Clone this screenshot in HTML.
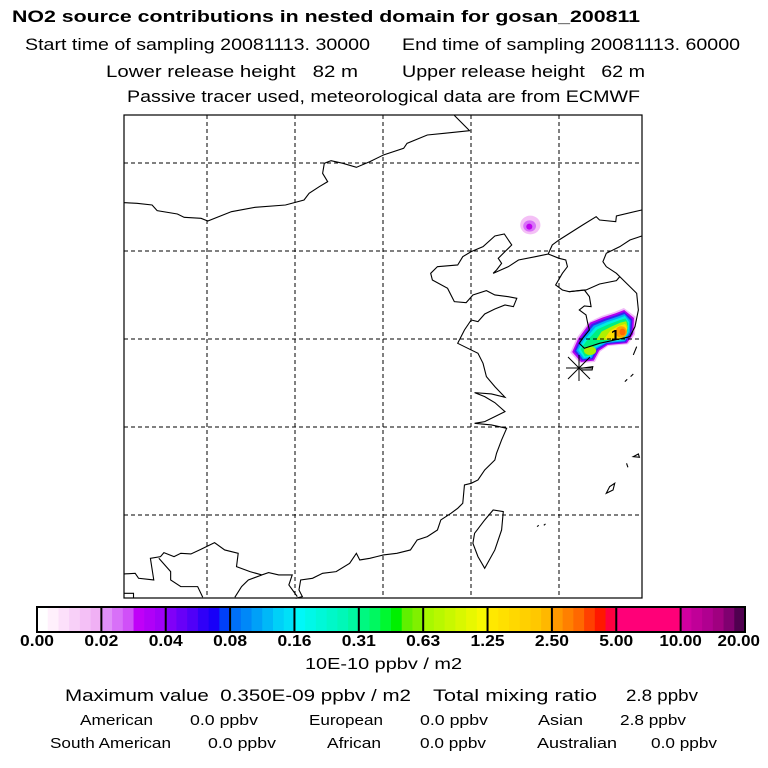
<!DOCTYPE html>
<html><head><meta charset="utf-8"><style>
html,body{margin:0;padding:0;background:#fff;}
svg{display:block;font-family:"Liberation Sans",sans-serif;}
</style></head><body>
<svg id="chart" width="768" height="768" viewBox="0 0 768 768" xmlns="http://www.w3.org/2000/svg">
<rect width="768" height="768" fill="#fff"/>
<g fill="#000">
<text x="12" y="22" font-size="17" font-weight="bold" textLength="628" lengthAdjust="spacingAndGlyphs">NO2 source contributions in nested domain for gosan_200811</text>
<text x="25" y="50" font-size="17" textLength="345" lengthAdjust="spacingAndGlyphs">Start time of sampling 20081113. 30000</text>
<text x="402" y="50" font-size="17" textLength="338" lengthAdjust="spacingAndGlyphs">End time of sampling 20081113. 60000</text>
<text x="106" y="77" font-size="17" textLength="252" lengthAdjust="spacingAndGlyphs" xml:space="preserve">Lower release height   82 m</text>
<text x="402" y="77" font-size="17" textLength="243" lengthAdjust="spacingAndGlyphs" xml:space="preserve">Upper release height   62 m</text>
<text x="127" y="102" font-size="17" textLength="513" lengthAdjust="spacingAndGlyphs">Passive tracer used, meteorological data are from ECMWF</text>
</g>

<g id="map">
<rect x="124" y="115" width="518" height="483" fill="#fff" stroke="#000" stroke-width="1.2"/>
<g id="plume" transform="translate(120,110) scale(0.3377,0.3333)">
<ellipse cx="1215" cy="345" rx="30" ry="28" fill="#f4c0f6"/>
<ellipse cx="1213" cy="348" rx="19" ry="17" fill="#d870f8"/>
<ellipse cx="1212" cy="350" rx="9" ry="9" fill="#c000f0"/>
<polygon points="1333,728 1352,684 1388,636 1426,618 1464,606 1492,594 1527,620 1525,674 1504,703 1446,708 1422,725 1406,756 1362,760" fill="#f0b8f8"/>
<polygon points="1339,726 1357,686 1392,638 1430,622 1467,610 1493,600 1522,624 1520,672 1501,700 1444,705 1419,722 1403,752 1365,756" fill="#b000f0"/>
<polygon points="1345,724 1362,688 1397,642 1434,627 1470,615 1493,606 1517,628 1515,670 1498,697 1442,702 1415,719 1400,748 1368,752" fill="#3820f0"/>
<polygon points="1351,722 1367,690 1402,647 1438,632 1473,620 1494,612 1512,632 1510,668 1495,694 1440,699 1411,716 1397,744 1371,748" fill="#00a8f8"/>
<polygon points="1357,720 1373,692 1408,652 1442,637 1476,625 1495,618 1508,636 1506,666 1492,691 1440,696 1408,713 1394,740 1374,744" fill="#00f0e0"/>
<polygon points="1364,718 1380,695 1414,658 1447,643 1479,631 1497,625 1505,640 1503,664 1489,688 1440,693 1404,710 1391,736 1377,740" fill="#00f080"/>
<polygon points="1410,690 1426,665 1455,650 1482,638 1499,634 1503,650 1500,664 1487,686 1440,690" fill="#b0f000"/>
<polygon points="1436,684 1452,662 1476,648 1496,642 1502,656 1498,672 1484,686 1450,690" fill="#ffe000"/>
<ellipse cx="1484" cy="666" rx="17" ry="17" fill="#ffa000"/>
<ellipse cx="1488" cy="666" rx="9" ry="10" fill="#ff6800"/>
<ellipse cx="1392" cy="722" rx="18" ry="13" fill="#a8f000"/>
</g>
<g id="grid" stroke="#000" stroke-width="1" stroke-dasharray="4,3"></g>
<g transform="translate(120,110) scale(0.3377,0.3333)" fill="none" stroke="#000" stroke-width="1.1">
<path vector-effect="non-scaling-stroke" d="M990,16 L1035,62 L960,70 L910,75 L850,100 L840,115 L780,135 L740,155 L700,172 L660,160 L625,152 L605,160 L600,190 L615,215 L590,230 L560,250 L545,270 L490,285 L400,292 L330,305 L260,333 L240,325 L190,322 L170,312 L110,302 L95,285 L50,280 L12,278"/>
<path vector-effect="non-scaling-stroke" d="M1545,300 L1470,318 L1468,335 L1420,330 L1410,320 L1370,345 L1300,390 L1280,405 L1268,432 L1230,440 L1180,450 L1150,470 L1105,490 L1115,480 L1130,460 L1120,445 L1140,425 L1160,405 L1138,372 L1110,378 L1075,410 L1040,425 L1015,440 L1000,465 L940,470 L920,490 L925,510 L970,535 L990,575 L1025,578 L1045,555 L1085,542 L1110,555 L1150,560 L1175,565 L1165,590 L1140,585 L1110,597 L1080,612 L1060,635 L1040,630 L1020,660 L1000,700 L1030,715 L1060,730 L1075,760 L1085,800 L1110,830 L1140,862 L1100,852 L1050,848 L1080,860 L1110,878 L1140,905 L1110,920 L1080,935 L1050,940 L1100,945 L1145,955 L1130,990 L1115,1030 L1110,1050 L1080,1080 L1060,1110 L1040,1120 L1020,1125 L1015,1180 L1000,1195 L980,1210 L950,1230 L940,1260 L910,1280 L880,1290 L860,1320 L820,1330 L780,1335 L760,1340 L740,1345 L710,1350 L700,1330 L680,1360 L640,1385 L600,1390 L570,1405 L535,1410 L530,1440 L540,1460 L520,1465"/>
<path vector-effect="non-scaling-stroke" d="M1268,432 L1300,445 L1320,450 L1325,470 L1310,490 L1290,525 L1310,540 L1330,545 L1375,540 L1390,560 L1395,590 L1375,588 L1360,600 L1380,615 L1385,640 L1390,660 L1370,685 L1360,700 L1375,715 L1420,700 L1465,690 L1510,680 L1525,650 L1535,600 L1530,550 L1490,510 L1470,490 L1440,470 L1430,455 L1440,430 L1480,410 L1510,390 L1545,378"/>
<path vector-effect="non-scaling-stroke" d="M1330,545 L1380,540 L1420,522 L1470,512 L1480,500"/>
<path vector-effect="non-scaling-stroke" d="M1080,1375 L1060,1340 L1045,1300 L1050,1270 L1080,1230 L1105,1200 L1135,1205 L1130,1260 L1110,1320 Z"/>
<path vector-effect="non-scaling-stroke" d="M12,1392 L45,1390 L55,1405 L100,1410 L90,1345 L120,1340 L130,1328 L160,1340 L180,1330 L210,1332 L240,1318 L280,1298 L310,1320 L350,1330 L345,1370 L385,1385 L420,1395 L440,1388 L470,1395 L510,1395 L500,1425 L525,1460"/>
<path vector-effect="non-scaling-stroke" d="M115,1345 L150,1385 L150,1410 L180,1430 L230,1430 L245,1462"/>
<path vector-effect="non-scaling-stroke" d="M340,1462 L360,1430 L380,1410 L420,1395"/>
<path vector-effect="non-scaling-stroke" d="M12,1450 L40,1450 L40,1465"/>
<path vector-effect="non-scaling-stroke" d="M1440,1150 L1450,1130 L1465,1120 L1460,1140 Z M1520,1040 L1535,1032 L1538,1042 Z M1500,1060 L1504,1072 M1495,815 L1502,808 M1512,800 L1520,792 M1520,735 L1530,710 M1235,1250 L1240,1246 M1255,1246 L1260,1242 M1365,775 L1400,770 L1398,780 L1365,780"/>
</g>
<g stroke="#000" stroke-width="1">
<line x1="568" y1="357" x2="590" y2="379"/><line x1="590" y1="357" x2="568" y2="379"/>
<line x1="579" y1="355" x2="579" y2="381"/><line x1="566" y1="368" x2="592" y2="368"/>
</g>
<text x="611" y="340" font-size="15" font-weight="bold" fill="#000">1</text>
</g>

<g id="colorbar"></g>
<g id="cblabels" font-size="16" font-weight="bold" fill="#000"></g>
<text x="305" y="669" font-size="16" textLength="157" lengthAdjust="spacingAndGlyphs">10E-10 ppbv / m2</text>

<g fill="#000">
<text x="65" y="701" font-size="17" textLength="346" lengthAdjust="spacingAndGlyphs" xml:space="preserve">Maximum value  0.350E-09 ppbv / m2</text>
<text x="433" y="701" font-size="17" textLength="164" lengthAdjust="spacingAndGlyphs">Total mixing ratio</text>
<text x="626" y="701" font-size="17" textLength="72" lengthAdjust="spacingAndGlyphs">2.8 ppbv</text>
<g font-size="15">
<text x="80" y="725" textLength="73" lengthAdjust="spacingAndGlyphs">American</text>
<text x="190" y="725" textLength="68" lengthAdjust="spacingAndGlyphs">0.0 ppbv</text>
<text x="309" y="725" textLength="74" lengthAdjust="spacingAndGlyphs">European</text>
<text x="420" y="725" textLength="68" lengthAdjust="spacingAndGlyphs">0.0 ppbv</text>
<text x="538" y="725" textLength="45" lengthAdjust="spacingAndGlyphs">Asian</text>
<text x="620" y="725" textLength="66" lengthAdjust="spacingAndGlyphs">2.8 ppbv</text>
<text x="50" y="748" textLength="121" lengthAdjust="spacingAndGlyphs">South American</text>
<text x="208" y="748" textLength="68" lengthAdjust="spacingAndGlyphs">0.0 ppbv</text>
<text x="327" y="748" textLength="54" lengthAdjust="spacingAndGlyphs">African</text>
<text x="420" y="748" textLength="66" lengthAdjust="spacingAndGlyphs">0.0 ppbv</text>
<text x="537" y="748" textLength="80" lengthAdjust="spacingAndGlyphs">Australian</text>
<text x="651" y="748" textLength="66" lengthAdjust="spacingAndGlyphs">0.0 ppbv</text>
</g></g>
</svg>
<script>
const tickLabels = ["0.00","0.02","0.04","0.08","0.16","0.31","0.63","1.25","2.50","5.00","10.00","20.00"];
const segColors = [
 ["#ffffff","#fff0fc","#fce0fa","#f8d0f8","#f4c0f6","#f0b0f4"],
 ["#e090f8","#d870f8","#d050f8","#c000f8","#b000f8","#a000f8"],
 ["#8000f8","#6800f8","#5000f8","#3000f8","#1800f8","#0040f8"],
 ["#0070f8","#0088f8","#00a0f8","#00b8f8","#00d0f8","#00e0f8"],
 ["#00f8f8","#00f8e8","#00f8d8","#00f8c8","#00f8b8","#00f8a0"],
 ["#00f880","#00f860","#00f830","#00f000","#60f000","#80f000"],
 ["#a8f800","#b8f800","#c8f800","#d8f800","#e8f800","#f8f800"],
 ["#ffe800","#ffe000","#ffd800","#ffd000","#ffc800","#ffb800"],
 ["#ff9800","#ff8000","#ff6800","#ff4000","#ff1800","#ff0040"],
 ["#ff0078","#ff0078","#ff0078","#ff0078","#ff0078","#ff0078"],
 ["#d000a0","#c00098","#b00090","#a00080","#800070","#500050"]
];
const NS="http://www.w3.org/2000/svg";
const bx0=37,bx1=745,by=607,bh=25;
const nSeg=segColors.length;
function xAt(i){return bx0+(bx1-bx0)*i/nSeg;}
const cb=document.getElementById('colorbar');
segColors.forEach((cols,i)=>{
  const w=(xAt(i+1)-xAt(i))/cols.length;
  cols.forEach((c,j)=>{
    const r=document.createElementNS(NS,'rect');
    
    
    r.setAttribute('x',xAt(i)+j*w);r.setAttribute('y',by);
    r.setAttribute('width',w+0.5);r.setAttribute('height',bh);
    r.setAttribute('fill',c);cb.appendChild(r);
  });
});
for(let i=0;i<=nSeg;i++){
  const l=document.createElementNS(NS,'line');
  
  
  l.setAttribute('x1',xAt(i));l.setAttribute('x2',xAt(i));
  l.setAttribute('y1',by);l.setAttribute('y2',by+bh);
  l.setAttribute('stroke','#000');l.setAttribute('stroke-width','2');cb.appendChild(l);
}
const fr=document.createElementNS(NS,'rect');


fr.setAttribute('x',bx0);fr.setAttribute('y',by);fr.setAttribute('width',bx1-bx0);fr.setAttribute('height',bh);
fr.setAttribute('fill','none');fr.setAttribute('stroke','#000');fr.setAttribute('stroke-width','2');cb.appendChild(fr);
const lg=document.getElementById('cblabels');
tickLabels.forEach((t,i)=>{
  const tx=document.createElementNS(NS,'text');
  
  
  let x=xAt(i);
  const w=t.length*8.5;
  if(i===0)x=Math.max(x,w/2);
  if(i===tickLabels.length-1)x=Math.min(x,760-w/2);
  tx.setAttribute('x',x);tx.setAttribute('y',646);
  tx.setAttribute('text-anchor','middle');
  tx.setAttribute('textLength',w);tx.setAttribute('lengthAdjust','spacingAndGlyphs');
  tx.textContent=t;lg.appendChild(tx);
});
const grid=document.getElementById('grid');
const gx=[207,295,383,471,559], gy=[163,251,339,427,515];
gx.forEach(x=>{const l=document.createElementNS(NS,'line');
  
  
  l.setAttribute('x1',x);l.setAttribute('x2',x);l.setAttribute('y1',115);l.setAttribute('y2',598);grid.appendChild(l);});
gy.forEach(y=>{const l=document.createElementNS(NS,'line');
  
  
  l.setAttribute('x1',124);l.setAttribute('x2',642);l.setAttribute('y1',y);l.setAttribute('y2',y);grid.appendChild(l);});
</script>
</body></html>
